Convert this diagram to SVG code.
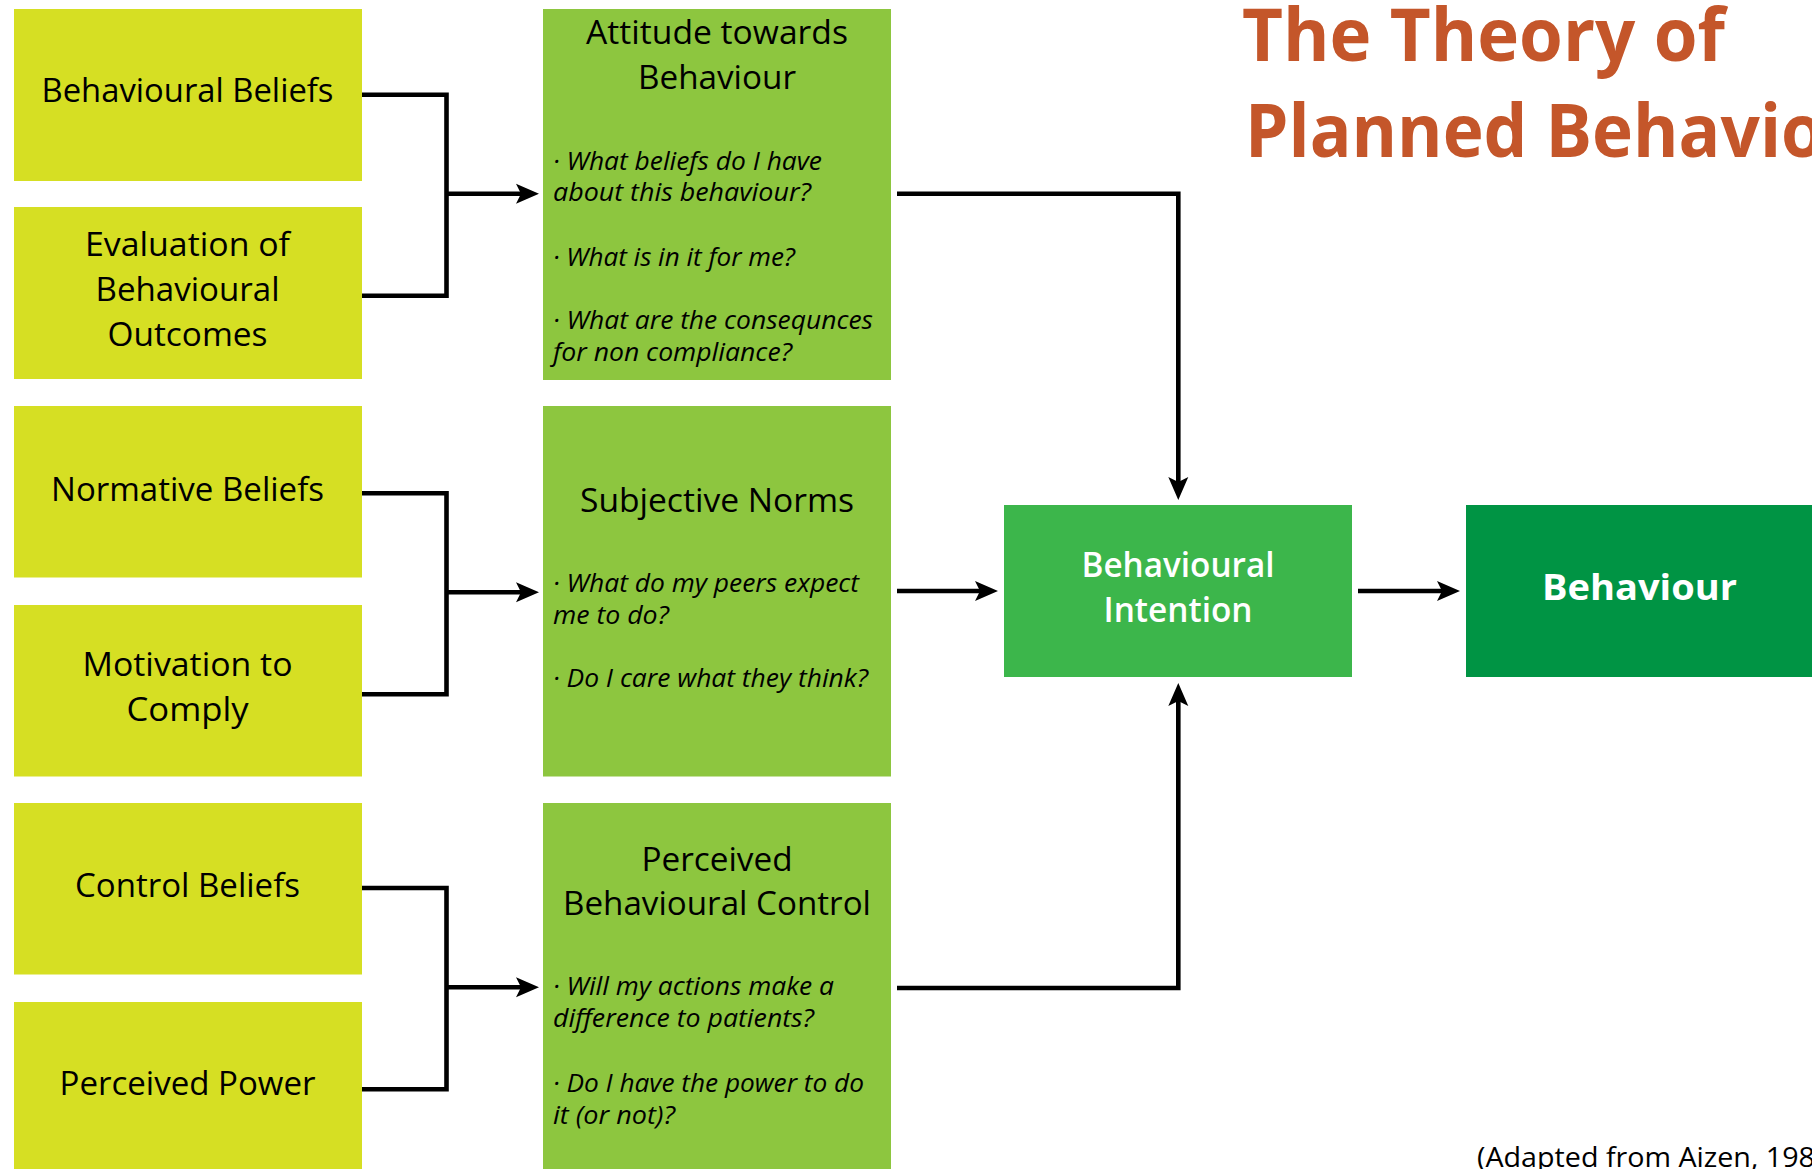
<svg xmlns="http://www.w3.org/2000/svg" width="1812" height="1169" viewBox="0 0 1812 1169">
  <defs>
    <style>
      .src { fill: #D6DF23; }
      .mid { fill: #8DC63F; }
      .bi { fill: #3CB64B; }
      .beh { fill: #009444; }
      text { font-family: "Open Sans", "Liberation Sans", sans-serif; fill: #000; }
      .lbl { font-size: 33px; text-anchor: middle; }
      .q { font-size: 25.5px; font-style: italic; }
      .wht { fill: #fff; text-anchor: middle; }
      .title { font-size: 74px; font-weight: 700; fill: #C4562A; }
      .note { font-size: 27px; }
      .wire { fill: none; stroke: #000; stroke-width: 4.6; stroke-linejoin: miter; stroke-linecap: butt; }
    </style>
    <marker id="head" markerUnits="userSpaceOnUse" viewBox="-10 -12 30 24" markerWidth="30" markerHeight="24" refX="0" refY="0" orient="auto">
      <path d="M16,0 L-7,-10 L-2,0 L-7,10 Z" fill="#000"/>
    </marker>
  </defs>

  <rect width="1812" height="1169" fill="#fff"/>

  <!-- title -->
  <g id="title">
    <text class="title" x="1242" y="61" textLength="483" lengthAdjust="spacingAndGlyphs">The Theory of</text>
    <text class="title" x="1245" y="156.7" textLength="656" lengthAdjust="spacingAndGlyphs">Planned Behaviour</text>
  </g>

  <!-- belief inputs -->
  <g id="behavioural-beliefs">
    <rect class="src" x="14" y="9" width="348" height="172"/>
    <text class="lbl" x="187.5" y="101.7" textLength="292" lengthAdjust="spacingAndGlyphs">Behavioural Beliefs</text>
  </g>
  <g id="evaluation-outcomes">
    <rect class="src" x="14" y="207" width="348" height="172"/>
    <text class="lbl" x="187.5" y="256" textLength="205" lengthAdjust="spacingAndGlyphs">Evaluation of</text>
    <text class="lbl" x="187.5" y="301" textLength="184" lengthAdjust="spacingAndGlyphs">Behavioural</text>
    <text class="lbl" x="187.5" y="345.7" textLength="160" lengthAdjust="spacingAndGlyphs">Outcomes</text>
  </g>
  <g id="normative-beliefs">
    <rect class="src" x="14" y="406" width="348" height="171.5"/>
    <text class="lbl" x="187.5" y="500.7" textLength="273" lengthAdjust="spacingAndGlyphs">Normative Beliefs</text>
  </g>
  <g id="motivation-comply">
    <rect class="src" x="14" y="605" width="348" height="171.5"/>
    <text class="lbl" x="187.5" y="676" textLength="210" lengthAdjust="spacingAndGlyphs">Motivation to</text>
    <text class="lbl" x="187.5" y="720.7" textLength="122" lengthAdjust="spacingAndGlyphs">Comply</text>
  </g>
  <g id="control-beliefs">
    <rect class="src" x="14" y="803" width="348" height="171.5"/>
    <text class="lbl" x="187.5" y="897.3" textLength="225" lengthAdjust="spacingAndGlyphs">Control Beliefs</text>
  </g>
  <g id="perceived-power">
    <rect class="src" x="14" y="1002" width="348" height="172"/>
    <text class="lbl" x="187.5" y="1095" textLength="256" lengthAdjust="spacingAndGlyphs">Perceived Power</text>
  </g>

  <!-- determinants -->
  <g id="attitude">
    <rect class="mid" x="543" y="9" width="348" height="371"/>
    <text class="lbl" x="717" y="44" textLength="262" lengthAdjust="spacingAndGlyphs">Attitude towards</text>
    <text class="lbl" x="717" y="89.3" textLength="158" lengthAdjust="spacingAndGlyphs">Behaviour</text>
    <text class="q" x="553" y="169.5" textLength="269" lengthAdjust="spacingAndGlyphs">· What beliefs do I have</text>
    <text class="q" x="553" y="200.5" textLength="258" lengthAdjust="spacingAndGlyphs">about this behaviour?</text>
    <text class="q" x="553" y="265.5" textLength="242" lengthAdjust="spacingAndGlyphs">· What is in it for me?</text>
    <text class="q" x="553" y="329" textLength="320" lengthAdjust="spacingAndGlyphs">· What are the consequnces</text>
    <text class="q" x="553" y="360.5" textLength="239" lengthAdjust="spacingAndGlyphs">for non compliance?</text>
  </g>
  <g id="subjective-norms">
    <rect class="mid" x="543" y="406" width="348" height="370.5"/>
    <text class="lbl" x="717" y="511.7" textLength="274" lengthAdjust="spacingAndGlyphs">Subjective Norms</text>
    <text class="q" x="553" y="592" textLength="306" lengthAdjust="spacingAndGlyphs">· What do my peers expect</text>
    <text class="q" x="553" y="623.5" textLength="116" lengthAdjust="spacingAndGlyphs">me to do?</text>
    <text class="q" x="553" y="687" textLength="315" lengthAdjust="spacingAndGlyphs">· Do I care what they think?</text>
  </g>
  <g id="perceived-control">
    <rect class="mid" x="543" y="803" width="348" height="371"/>
    <text class="lbl" x="717" y="870.7" textLength="151" lengthAdjust="spacingAndGlyphs">Perceived</text>
    <text class="lbl" x="717" y="915" textLength="308" lengthAdjust="spacingAndGlyphs">Behavioural Control</text>
    <text class="q" x="553" y="995.3" textLength="281" lengthAdjust="spacingAndGlyphs">· Will my actions make a</text>
    <text class="q" x="553" y="1027" textLength="261" lengthAdjust="spacingAndGlyphs">difference to patients?</text>
    <text class="q" x="553" y="1092" textLength="311" lengthAdjust="spacingAndGlyphs">· Do I have the power to do</text>
    <text class="q" x="553" y="1123.5" textLength="122" lengthAdjust="spacingAndGlyphs">it (or not)?</text>
  </g>

  <!-- outcome chain -->
  <g id="intention">
    <rect class="bi" x="1004" y="505" width="348" height="172"/>
    <text class="wht" x="1178" y="576.7" font-size="34" font-weight="600" textLength="193" lengthAdjust="spacingAndGlyphs">Behavioural</text>
    <text class="wht" x="1178" y="622" font-size="34" font-weight="600" textLength="149" lengthAdjust="spacingAndGlyphs">Intention</text>
  </g>
  <g id="behaviour">
    <rect class="beh" x="1466" y="505" width="348" height="172"/>
    <text class="wht" x="1639.5" y="600" font-size="35" font-weight="700" textLength="195" lengthAdjust="spacingAndGlyphs">Behaviour</text>
  </g>

  <g id="source-note">
    <text class="note" x="1477" y="1167" textLength="338" lengthAdjust="spacingAndGlyphs">(Adapted from Aizen, 198</text>
  </g>

  <!-- connectors -->
  <g id="connectors">
    <path class="wire" d="M362,94.7 H446.5 V295.7 H362"/>
    <path class="wire" d="M446.5,193.7 H523" marker-end="url(#head)"/>
    <path class="wire" d="M362,493.3 H446.5 V694.3 H362"/>
    <path class="wire" d="M446.5,592.3 H523" marker-end="url(#head)"/>
    <path class="wire" d="M362,888 H446.5 V1089.3 H362"/>
    <path class="wire" d="M446.5,987.3 H523" marker-end="url(#head)"/>
    <path class="wire" d="M897,193.7 H1178.3 V484" marker-end="url(#head)"/>
    <path class="wire" d="M897,591 H982" marker-end="url(#head)"/>
    <path class="wire" d="M897,988 H1178.3 V699" marker-end="url(#head)"/>
    <path class="wire" d="M1358,591 H1444" marker-end="url(#head)"/>
  </g>
</svg>
